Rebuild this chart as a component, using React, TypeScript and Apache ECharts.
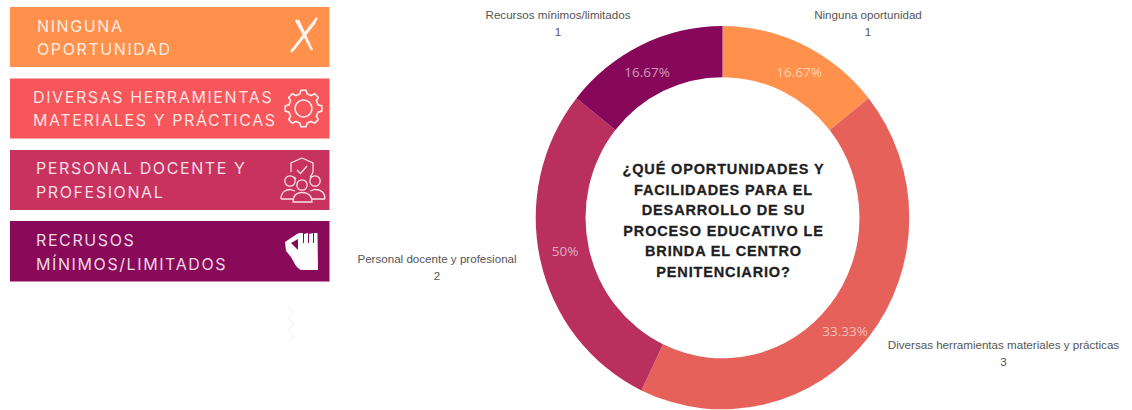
import React, { useEffect, useRef } from "react";
import * as echarts from "echarts";

const categories = ["Ninguna oportunidad", "Diversas herramientas materiales y prácticas", "Personal docente y profesional", "Recursos mínimos/limitados"];
const values = [1, 3, 2, 1];
const percentLabels = ["16.67%", "33.33%", "50%", "16.67%"];
const pieColors = ["#FF914D", "#E5615A", "#B9305F", "#87085A"];
const legendColors = ["#FF914D", "#F7575A", "#C7325F", "#8A0A5A"];
const legendLines = [
  ["NINGUNA", "OPORTUNIDAD"],
  ["DIVERSAS HERRAMIENTAS", "MATERIALES Y PRÁCTICAS"],
  ["PERSONAL DOCENTE Y", "PROFESIONAL"],
  ["RECRUSOS", "MÍNIMOS/LIMITADOS"],
];
const titleLines = ["¿QUÉ OPORTUNIDADES Y", "FACILIDADES PARA EL", "DESARROLLO DE SU", "PROCESO EDUCATIVO LE", "BRINDA EL CENTRO", "PENITENCIARIO?"];

const gear = (cx: number, cy: number, r1: number, r2: number, n: number) => {
  let d = "";
  for (let i = 0; i < n; i++) {
    const a = (i / n) * Math.PI * 2;
    const s = (Math.PI * 2) / n;
    const pts = [[r2, a - s * 0.32], [r1, a - s * 0.18], [r1, a + s * 0.18], [r2, a + s * 0.32]];
    pts.forEach(([r, t], j) => {
      const x = cx + r * Math.cos(t);
      const y = cy + r * Math.sin(t);
      d += (i === 0 && j === 0 ? "M" : "L") + x.toFixed(1) + " " + y.toFixed(1) + " ";
    });
  }
  return d + "Z ";
};

const circlePath = (cx: number, cy: number, r: number) =>
  `M${cx - r} ${cy} A${r} ${r} 0 1 1 ${cx + r} ${cy} A${r} ${r} 0 1 1 ${cx - r} ${cy} Z `;

const ICONS: Record<string, string> = {
  iconX: "M296 20 L312 50 M298 20 L310 46 M317 18 L291 52 M315 22 L293 50",
  iconGear: gear(303.5, 108.5, 18.5, 15, 8) + circlePath(303.5, 108.5, 8.5),
  iconTeam:
    "M302 158 L313 163 L313 172 C312 175 311 176 310 177 M291 172 L291 163 L302 158 M294 177 L296 179 M297 170 L300.5 173.5 L307 166 " +
    circlePath(290, 181, 5.2) + circlePath(315, 181, 5.2) + circlePath(302, 185, 5.2) +
    "M281 199 C281 192 286 189.5 290 189.5 L295 191 M281 199 L293 199 M325 199 C325 192 320 189.5 315 189.5 L310 191 M325 199 L312 199 " +
    "M293 202 C293 195 297 192.5 302 192.5 C307 192.5 312 195 312 202 Z",
  iconHand: "M285 242 L297 234 L299 233 L303 233 L304 234 L308 233 L309 234 L313 233 L317.5 233 L318 270 L301 270 C296 268 294 262 291 257 L286 251 Z",
  iconHandGaps: "M303.5 233 L303.5 243 M308.5 233 L308.5 243 M313.5 233 L313.5 243",
  iconHandNotch: "M291 243 L298 239 L298 250 Z",
  iconFaint: "M288 308 L294 312 L288 318 L294 324 L288 330 L294 336 L290 341",
};
Object.entries(ICONS).forEach(([k, d]) => echarts.graphic.registerShape(k, echarts.graphic.extendPath(d, {})));

const legendBoxes = [
  { y: 7, h: 60, x: 37, rows: [26, 49] },
  { y: 78.5, h: 60, x: 33, rows: [97, 120] },
  { y: 150, h: 60, x: 36, rows: [168, 192] },
  { y: 221, h: 60.5, x: 36, rows: [240, 264] },
];

const outerPos = [
  { x: 868, y: 5.5 },
  { x: 1003.5, y: 336 },
  { x: 437, y: 249.5 },
  { x: 558, y: 5.5 },
];
const innerPos = [
  { x: 799, y: 72 },
  { x: 845, y: 331 },
  { x: 565, y: 251 },
  { x: 647, y: 72 },
];

const CX = 722.5;
const CY = 217.7;
const STRETCH = 1.026;
const TRACK_LEGEND = "1.6px";
const TRACK_TITLE = "0.85px";

export default function App() {
  const ref = useRef<HTMLDivElement>(null);
  useEffect(() => {
    const chart = echarts.init(ref.current!, undefined, { renderer: "svg" });
    const data = categories.map((name, i) => ({ name, value: values[i], itemStyle: { color: pieColors[i] } }));
    const graphic: any[] = [];
    legendBoxes.forEach((b, i) => {
      graphic.push({ type: "rect", shape: { x: 10, y: b.y, width: 319.5, height: b.h }, style: { fill: legendColors[i] } });
      legendLines[i].forEach((text, j) => {
        graphic.push({
          type: "text", x: b.x, y: b.rows[j],
          style: { text, fill: "rgba(255,255,255,0.85)", fontFamily: "Inter", fontSize: 16, textAlign: "left", textVerticalAlign: "middle" },
        });
      });
    });
    const W = "#ffffff";
    graphic.push({ type: "iconX", style: { fill: "none", stroke: "rgba(255,255,255,0.92)", lineWidth: 2.4 }, z: 2 });
    graphic.push({ type: "iconGear", style: { fill: "none", stroke: "rgba(255,255,255,0.9)", lineWidth: 1.6 }, z: 2 });
    graphic.push({ type: "iconTeam", style: { fill: "none", stroke: "rgba(255,255,255,0.85)", lineWidth: 1.3 }, z: 2 });
    graphic.push({ type: "iconHand", style: { fill: W }, z: 2 });
    graphic.push({ type: "iconHandGaps", style: { fill: "none", stroke: legendColors[3], lineWidth: 1 }, z: 3 });
    graphic.push({ type: "iconHandNotch", style: { fill: legendColors[3] }, z: 3 });
    graphic.push({ type: "iconFaint", style: { fill: "none", stroke: "#f8f8f8", lineWidth: 2 }, z: 1 });
    titleLines.forEach((text, i) => {
      graphic.push({
        type: "text", x: 723.5, y: 169.3 + i * 20.5, z: 5,
        style: { text, fill: "#1f1f1f", stroke: "#1f1f1f", lineWidth: 0.3, fontFamily: "Liberation Sans", fontWeight: "bold", fontSize: 14.5, textAlign: "center", textVerticalAlign: "middle" },
      });
    });
    const base = {
      type: "pie", center: [CX, CY], radius: [137, 186.8], startAngle: 90, clockwise: true,
      avoidLabelOverlap: false, silent: true, data,
    };
    chart.setOption({
      animation: false,
      graphic,
      series: [
        {
          ...base,
          label: {
            position: "inside", color: "rgba(255,255,255,0.6)", fontFamily: "Open Sans", fontSize: 13.5,
            formatter: (p: any) => percentLabels[p.dataIndex],
          },
          labelLayout: (p: any) => ({ ...innerPos[p.dataIndex], align: "center", verticalAlign: "middle" }),
        },
        {
          ...base,
          itemStyle: { color: "transparent" },
          data: categories.map((name, i) => ({ name, value: values[i] })),
          label: {
            position: "outside", color: "#555555", fontFamily: "Liberation Sans", fontSize: 11.6, lineHeight: 17, align: "center",
            formatter: "{b}\n{c}",
          },
          labelLine: { show: false },
          labelLayout: (p: any) => ({ ...outerPos[p.dataIndex], align: "center", verticalAlign: "top" }),
        },
      ],
    });
    const root = ref.current!;
    const legendSet = new Set(legendLines.flat());
    const titleSet = new Set(titleLines);
    root.querySelectorAll("text").forEach((t) => {
      const s = t.textContent || "";
      if (legendSet.has(s)) t.style.letterSpacing = TRACK_LEGEND;
      if (titleSet.has(s)) t.style.letterSpacing = TRACK_TITLE;
    });
    // The reference ring is a slightly tall ellipse: stretch the sectors about the pie's centre.
    const fills = new Set(pieColors.map((c) => c.toLowerCase()));
    root.querySelectorAll("path").forEach((p) => {
      const f = (p.getAttribute("fill") || "").toLowerCase();
      if (fills.has(f) && (p.getAttribute("d") || "").includes("A")) {
        p.setAttribute("transform", `translate(0 ${CY}) scale(1 ${STRETCH}) translate(0 ${-CY})`);
      }
    });
    return () => chart.dispose();
  }, []);
  return <div ref={ref} style={{ position: "absolute", left: 0, top: 0, width: 1132, height: 410, background: "#fff" }} />;
}
